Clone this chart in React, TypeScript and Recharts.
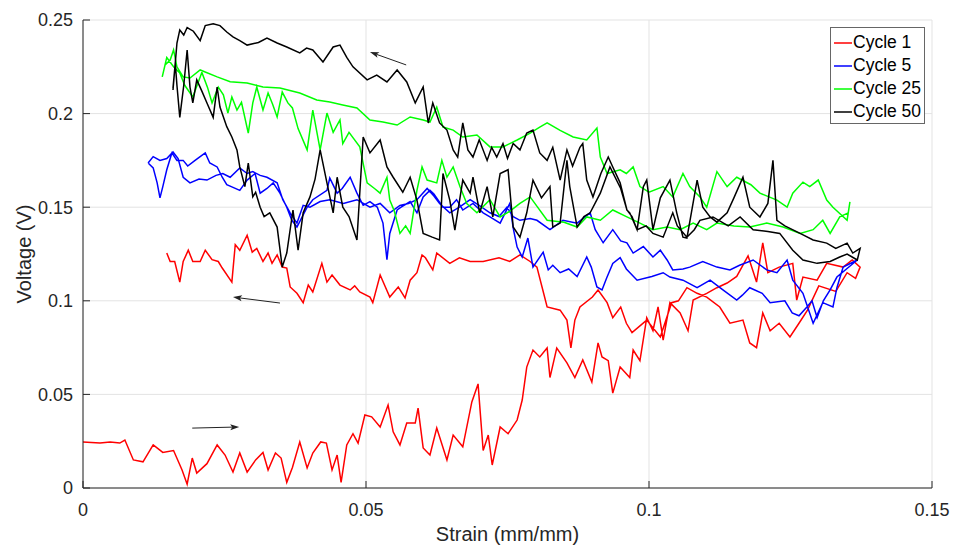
import React from 'react';
import { LineChart, Line, XAxis, YAxis, CartesianGrid, Legend, ReferenceLine } from 'recharts';

const xTicks = [0, 0.05, 0.1, 0.15];
const yTicks = [0, 0.05, 0.1, 0.15, 0.2, 0.25];
const seriesNames = ['Cycle 1', 'Cycle 5', 'Cycle 25', 'Cycle 50'];
const seriesColors = ['#ff0000', '#0000ff', '#00ff00', '#000000'];

const cycle1Load = [
  [0, 0.0246], [0.003, 0.024], [0.0048, 0.0246], [0.0065, 0.024], [0.0074, 0.0256], [0.0089, 0.015], [0.0106, 0.014],
  [0.0124, 0.023], [0.0141, 0.019], [0.016, 0.02], [0.0175, 0.0096], [0.0184, 0.002], [0.0193, 0.016], [0.0201, 0.008],
  [0.0219, 0.013], [0.0237, 0.023], [0.0251, 0.0176], [0.0265, 0.0085], [0.0277, 0.0187], [0.029, 0.0085], [0.0305, 0.015],
  [0.0318, 0.019], [0.0327, 0.0096], [0.034, 0.0187], [0.035, 0.016], [0.036, 0.003], [0.037, 0.011], [0.0383, 0.0246],
  [0.0396, 0.0107], [0.0406, 0.0187], [0.042, 0.0246], [0.043, 0.024], [0.044, 0.0096], [0.0449, 0.0176], [0.0456, 0.003],
  [0.0466, 0.023], [0.0477, 0.029], [0.0486, 0.024], [0.0498, 0.039], [0.051, 0.038], [0.0525, 0.0326], [0.0539, 0.0443],
  [0.0548, 0.03], [0.056, 0.023], [0.0572, 0.0347], [0.0587, 0.0347], [0.0592, 0.0427], [0.0601, 0.0214], [0.0613, 0.0176],
  [0.0625, 0.032], [0.0643, 0.015], [0.0654, 0.0283], [0.0671, 0.022], [0.0687, 0.046], [0.0698, 0.0556], [0.0707, 0.02],
  [0.0716, 0.0283], [0.0723, 0.0123], [0.0737, 0.0326], [0.0751, 0.029], [0.0767, 0.0363], [0.0776, 0.047], [0.0784, 0.0646],
  [0.0795, 0.0737], [0.0807, 0.07], [0.082, 0.0748], [0.0825, 0.059], [0.0837, 0.0748], [0.0855, 0.0668], [0.0869, 0.059],
  [0.0883, 0.0684], [0.0899, 0.0566], [0.091, 0.0775], [0.0917, 0.07], [0.0928, 0.068], [0.0936, 0.0507], [0.0949, 0.0646],
  [0.0966, 0.059], [0.0972, 0.0737], [0.0984, 0.068], [0.0996, 0.091], [0.1007, 0.084], [0.1016, 0.0967], [0.1025, 0.079],
  [0.1037, 0.099], [0.1055, 0.0935], [0.1069, 0.084], [0.1078, 0.1004], [0.1102, 0.104], [0.112, 0.107], [0.1138, 0.1095],
  [0.1155, 0.113], [0.1175, 0.124], [0.119, 0.11], [0.1201, 0.131], [0.121, 0.115], [0.123, 0.118], [0.1254, 0.12],
  [0.1261, 0.1004], [0.1272, 0.1127], [0.1297, 0.111], [0.1314, 0.12], [0.1343, 0.118], [0.1359, 0.1218], [0.1373, 0.118],
];
const cycle1Unload = [
  [0.1365, 0.112], [0.135, 0.115], [0.133, 0.105], [0.13, 0.108], [0.128, 0.095], [0.1265, 0.088], [0.1249, 0.0807],
  [0.123, 0.088], [0.1214, 0.084], [0.1201, 0.0935], [0.119, 0.075], [0.1178, 0.0775], [0.1166, 0.0897], [0.1143, 0.088],
  [0.1125, 0.0967], [0.1102, 0.102], [0.1085, 0.104], [0.1067, 0.107], [0.1052, 0.1], [0.104, 0.099], [0.102, 0.0807],
  [0.0996, 0.0897], [0.097, 0.083], [0.096, 0.088], [0.095, 0.0967], [0.0936, 0.091], [0.0926, 0.099], [0.091, 0.1058],
  [0.09, 0.102], [0.0878, 0.0967], [0.0869, 0.0897], [0.0862, 0.0748], [0.0855, 0.0897], [0.0843, 0.095], [0.082, 0.0967],
  [0.0811, 0.1074], [0.0802, 0.118], [0.079, 0.121], [0.0772, 0.1245], [0.0754, 0.121], [0.0735, 0.123], [0.0707, 0.121],
  [0.0684, 0.121], [0.0665, 0.123], [0.0648, 0.12], [0.0625, 0.1255], [0.0618, 0.1165], [0.0605, 0.123], [0.0599, 0.1245],
  [0.059, 0.115], [0.0578, 0.111], [0.0569, 0.1015], [0.0557, 0.1074], [0.0542, 0.102], [0.0525, 0.1138], [0.0512, 0.099],
  [0.0507, 0.102], [0.0489, 0.1047], [0.048, 0.108], [0.0472, 0.1058], [0.0454, 0.1084], [0.044, 0.1138], [0.0431, 0.11],
  [0.0422, 0.12], [0.0406, 0.1047], [0.0398, 0.1084], [0.0389, 0.099], [0.0378, 0.104], [0.0366, 0.1074], [0.036, 0.1175],
  [0.0352, 0.118], [0.0343, 0.1245], [0.0334, 0.12], [0.0327, 0.1255], [0.0318, 0.121], [0.0307, 0.128], [0.0299, 0.126],
  [0.029, 0.135], [0.0277, 0.127], [0.0269, 0.13], [0.0263, 0.11], [0.0246, 0.1175], [0.0239, 0.121], [0.0228, 0.122],
  [0.0216, 0.127], [0.0207, 0.121], [0.0194, 0.121], [0.0186, 0.127], [0.0177, 0.121], [0.0171, 0.11], [0.0162, 0.121],
  [0.0154, 0.121], [0.0148, 0.1255],
];

const cycle5Load = [
  [0.0115, 0.1736], [0.0124, 0.177], [0.0136, 0.175], [0.0148, 0.176], [0.0159, 0.1795], [0.0168, 0.176], [0.0177, 0.166],
  [0.0189, 0.163], [0.0205, 0.165], [0.0219, 0.1645], [0.0235, 0.167], [0.0247, 0.168], [0.026, 0.166], [0.0277, 0.171],
  [0.029, 0.168], [0.03, 0.169], [0.0313, 0.167], [0.0325, 0.166], [0.0343, 0.163], [0.0353, 0.154], [0.0366, 0.147],
  [0.0378, 0.1415], [0.0389, 0.151], [0.0401, 0.15], [0.0419, 0.153], [0.0436, 0.154], [0.046, 0.152], [0.0484, 0.154],
  [0.0507, 0.15], [0.0525, 0.152], [0.0542, 0.147], [0.056, 0.151], [0.0575, 0.152], [0.059, 0.154], [0.0608, 0.16],
  [0.062, 0.156], [0.063, 0.152], [0.0648, 0.147], [0.0665, 0.15], [0.0684, 0.154], [0.07, 0.151], [0.0719, 0.147],
  [0.0735, 0.145], [0.0749, 0.15], [0.076, 0.145], [0.0772, 0.143], [0.079, 0.144], [0.0802, 0.143], [0.0825, 0.138],
  [0.0848, 0.143], [0.0873, 0.1415], [0.0896, 0.147], [0.0905, 0.138], [0.0919, 0.131], [0.0936, 0.138], [0.095, 0.132],
  [0.0961, 0.131], [0.0972, 0.1255], [0.099, 0.129], [0.1007, 0.1234], [0.102, 0.127], [0.1032, 0.1218], [0.1042, 0.1165],
  [0.106, 0.117], [0.1072, 0.118], [0.1095, 0.121], [0.112, 0.118], [0.1143, 0.1165], [0.116, 0.119], [0.1184, 0.1218],
  [0.1208, 0.1165], [0.1226, 0.115], [0.1244, 0.1218], [0.1254, 0.111], [0.1272, 0.104], [0.129, 0.088], [0.1307, 0.099],
  [0.1325, 0.0967], [0.1332, 0.107], [0.1343, 0.118], [0.1368, 0.1218],
];
const cycle5Unload = [
  [0.1332, 0.1127], [0.132, 0.1058], [0.1308, 0.1], [0.1297, 0.091], [0.1288, 0.1], [0.1279, 0.0967], [0.1265, 0.092],
  [0.1253, 0.0935], [0.124, 0.1], [0.1214, 0.099], [0.12, 0.104], [0.1178, 0.107], [0.1165, 0.103], [0.1155, 0.1004],
  [0.113, 0.106], [0.1108, 0.111], [0.1085, 0.107], [0.106, 0.111], [0.1037, 0.1127], [0.1025, 0.115], [0.1005, 0.113],
  [0.0979, 0.111], [0.096, 0.117], [0.0949, 0.123], [0.0936, 0.12], [0.0925, 0.112], [0.0917, 0.1058], [0.0908, 0.1074],
  [0.0898, 0.118], [0.089, 0.1234], [0.0873, 0.113], [0.0858, 0.117], [0.0843, 0.115], [0.083, 0.119], [0.0822, 0.1165],
  [0.0813, 0.126], [0.0795, 0.118], [0.0786, 0.1335], [0.0776, 0.1234], [0.0767, 0.1287], [0.076, 0.139], [0.0754, 0.152],
  [0.0737, 0.1415], [0.0719, 0.1448], [0.0707, 0.147], [0.0689, 0.152], [0.0671, 0.1485], [0.066, 0.154], [0.0648, 0.15],
  [0.0636, 0.15], [0.062, 0.157], [0.0613, 0.159], [0.0601, 0.1555], [0.059, 0.147], [0.0578, 0.153], [0.0562, 0.15],
  [0.0555, 0.1485], [0.0542, 0.136], [0.0537, 0.122], [0.053, 0.1415], [0.052, 0.15], [0.0507, 0.153], [0.0495, 0.151],
  [0.0484, 0.1575], [0.0472, 0.166], [0.0458, 0.16], [0.0449, 0.1575], [0.0436, 0.1656], [0.0431, 0.159], [0.0406, 0.154],
  [0.0396, 0.15], [0.0378, 0.1394], [0.0369, 0.143], [0.036, 0.15], [0.0348, 0.1575], [0.0336, 0.163], [0.0325, 0.16],
  [0.0313, 0.1575], [0.0304, 0.168], [0.029, 0.1645], [0.0277, 0.159], [0.0262, 0.161], [0.0254, 0.162], [0.0246, 0.166],
  [0.0237, 0.1715], [0.0224, 0.1736], [0.0216, 0.179], [0.0207, 0.177], [0.0198, 0.175], [0.0185, 0.172], [0.0177, 0.175],
  [0.0166, 0.175], [0.0157, 0.179], [0.0148, 0.17], [0.0141, 0.161], [0.0136, 0.155], [0.0131, 0.163], [0.0124, 0.171],
  [0.0115, 0.1736],
];

const cycle25Load = [
  [0.014, 0.2196], [0.0148, 0.23], [0.016, 0.225], [0.0171, 0.2217], [0.018, 0.215], [0.0194, 0.2089], [0.021, 0.222],
  [0.022, 0.214], [0.0228, 0.2057], [0.0239, 0.2142], [0.0248, 0.21], [0.0256, 0.2003], [0.0263, 0.2089], [0.0272, 0.2019],
  [0.028, 0.206], [0.0292, 0.1896], [0.03, 0.2057], [0.0307, 0.2142], [0.0318, 0.2019], [0.0327, 0.211], [0.0335, 0.205],
  [0.0343, 0.1982], [0.0352, 0.2115], [0.0362, 0.2057], [0.037, 0.203], [0.038, 0.192], [0.0396, 0.1806], [0.0406, 0.2019],
  [0.0419, 0.1806], [0.0431, 0.2003], [0.0442, 0.19], [0.0454, 0.1966], [0.0459, 0.184], [0.047, 0.19], [0.0489, 0.1822],
  [0.0502, 0.163], [0.0515, 0.16], [0.0525, 0.1575], [0.0537, 0.166], [0.0542, 0.1538], [0.055, 0.148], [0.056, 0.136],
  [0.057, 0.14], [0.0578, 0.136], [0.059, 0.159], [0.0599, 0.1715], [0.0608, 0.1645], [0.0625, 0.163], [0.0634, 0.175],
  [0.0643, 0.166], [0.0654, 0.1715], [0.0666, 0.161], [0.0678, 0.152], [0.0696, 0.147], [0.0719, 0.154], [0.0737, 0.1448],
  [0.0755, 0.148], [0.0772, 0.152], [0.079, 0.1555], [0.082, 0.143], [0.085, 0.142], [0.0873, 0.1394], [0.089, 0.1448],
  [0.0914, 0.143], [0.0936, 0.1485], [0.0961, 0.1448], [0.0984, 0.1415], [0.1007, 0.138], [0.1032, 0.1394], [0.1055, 0.138],
  [0.1078, 0.1415], [0.1102, 0.138], [0.112, 0.1415], [0.115, 0.14], [0.1178, 0.1394], [0.1208, 0.1415], [0.1237, 0.1394],
  [0.1267, 0.136], [0.129, 0.138], [0.1307, 0.143], [0.132, 0.136], [0.1337, 0.1448], [0.1352, 0.147], [0.1355, 0.1528],
];
const cycle25Unload = [
  [0.135, 0.143], [0.1325, 0.15], [0.1314, 0.1538], [0.1299, 0.1645], [0.1284, 0.161], [0.1272, 0.1634], [0.1254, 0.1575],
  [0.1244, 0.15], [0.1226, 0.1538], [0.1196, 0.1575], [0.118, 0.162], [0.1155, 0.166], [0.1138, 0.161], [0.112, 0.169],
  [0.1102, 0.15], [0.109, 0.1555], [0.1072, 0.161], [0.106, 0.168], [0.1042, 0.1555], [0.1025, 0.161], [0.1, 0.158],
  [0.0984, 0.161], [0.0972, 0.1715], [0.096, 0.168], [0.0949, 0.17], [0.0926, 0.168], [0.0914, 0.1768], [0.0908, 0.1923],
  [0.089, 0.1859], [0.0866, 0.1875], [0.0843, 0.191], [0.082, 0.195], [0.0807, 0.1928], [0.079, 0.1896], [0.0767, 0.1859],
  [0.0742, 0.1822], [0.0719, 0.1822], [0.0696, 0.1886], [0.0671, 0.1875], [0.0654, 0.1912], [0.0636, 0.1928], [0.0625, 0.2035],
  [0.0613, 0.1955], [0.0601, 0.1966], [0.0578, 0.1982], [0.0555, 0.1939], [0.053, 0.1955], [0.0507, 0.1966], [0.0484, 0.203],
  [0.0459, 0.2046], [0.0436, 0.2062], [0.0413, 0.2073], [0.0383, 0.211], [0.0348, 0.2137], [0.0318, 0.2142], [0.029, 0.2163],
  [0.026, 0.217], [0.0237, 0.2196], [0.0207, 0.2233], [0.0189, 0.219], [0.0177, 0.2196], [0.0166, 0.225], [0.016, 0.234],
  [0.0154, 0.2286], [0.0145, 0.226], [0.014, 0.2196],
];

const cycle50Load = [
  [0.0159, 0.2137], [0.0163, 0.227], [0.0166, 0.2377], [0.0171, 0.2447], [0.0178, 0.242], [0.0184, 0.246], [0.0195, 0.244],
  [0.0207, 0.239], [0.0216, 0.247], [0.023, 0.248], [0.0242, 0.247], [0.0254, 0.2436], [0.0265, 0.241], [0.0277, 0.239],
  [0.029, 0.2366], [0.031, 0.238], [0.0325, 0.2404], [0.0343, 0.2377], [0.036, 0.2356], [0.0383, 0.2324], [0.0395, 0.235],
  [0.0406, 0.234], [0.0424, 0.2276], [0.0442, 0.2356], [0.0454, 0.2366], [0.0466, 0.23], [0.0477, 0.225], [0.0502, 0.218],
  [0.0519, 0.2206], [0.0537, 0.2169], [0.0555, 0.2233], [0.0572, 0.2169], [0.0587, 0.2057], [0.0601, 0.2142], [0.061, 0.195],
  [0.0618, 0.2057], [0.063, 0.195], [0.0643, 0.1912], [0.0654, 0.1806], [0.0662, 0.1768], [0.0671, 0.195], [0.068, 0.1806],
  [0.0689, 0.1768], [0.07, 0.186], [0.0714, 0.175], [0.0722, 0.182], [0.0731, 0.1768], [0.0742, 0.184], [0.075, 0.176],
  [0.076, 0.184], [0.0772, 0.1806], [0.0784, 0.1896], [0.0795, 0.1912], [0.0807, 0.179], [0.082, 0.175], [0.083, 0.182],
  [0.0843, 0.1645], [0.0855, 0.1806], [0.0865, 0.172], [0.0878, 0.182], [0.0883, 0.184], [0.089, 0.1645], [0.0901, 0.1555],
  [0.0915, 0.168], [0.0928, 0.1768], [0.0936, 0.1715], [0.0949, 0.163], [0.0961, 0.1485], [0.0966, 0.147], [0.0979, 0.138],
  [0.099, 0.161], [0.0996, 0.1645], [0.1007, 0.138], [0.102, 0.155], [0.1037, 0.1645], [0.1049, 0.147], [0.106, 0.134],
  [0.1067, 0.1335], [0.1085, 0.1645], [0.1095, 0.15], [0.1108, 0.1448], [0.112, 0.142], [0.1138, 0.147], [0.115, 0.155],
  [0.1166, 0.166], [0.1178, 0.15], [0.1196, 0.1448], [0.121, 0.152], [0.1219, 0.175], [0.1226, 0.143], [0.124, 0.14],
  [0.1267, 0.136], [0.129, 0.1325], [0.1314, 0.1308], [0.133, 0.128], [0.135, 0.1308], [0.136, 0.1255], [0.1373, 0.128],
];
const cycle50Unload = [
  [0.1368, 0.1218], [0.135, 0.125], [0.1337, 0.1234], [0.132, 0.121], [0.1297, 0.12], [0.1272, 0.1218], [0.1254, 0.127],
  [0.1231, 0.136], [0.121, 0.137], [0.1184, 0.138], [0.1161, 0.1448], [0.114, 0.14], [0.1113, 0.1448], [0.109, 0.143],
  [0.108, 0.138], [0.1067, 0.134], [0.105, 0.14], [0.1042, 0.147], [0.1025, 0.134], [0.1007, 0.136], [0.0995, 0.14],
  [0.0979, 0.138], [0.097, 0.145], [0.0961, 0.1485], [0.095, 0.16], [0.0931, 0.1715], [0.0914, 0.1575], [0.0896, 0.147],
  [0.0885, 0.145], [0.0873, 0.1394], [0.086, 0.161], [0.0855, 0.175], [0.0843, 0.1415], [0.083, 0.1394], [0.0825, 0.161],
  [0.081, 0.155], [0.0795, 0.1645], [0.0784, 0.147], [0.0772, 0.134], [0.076, 0.1394], [0.0751, 0.17], [0.0737, 0.168],
  [0.0724, 0.1448], [0.0714, 0.161], [0.0701, 0.147], [0.0689, 0.166], [0.0684, 0.1575], [0.0671, 0.1645], [0.0657, 0.1378],
  [0.0648, 0.1538], [0.0636, 0.168], [0.063, 0.1325], [0.0617, 0.134], [0.0601, 0.136], [0.059, 0.1538], [0.0578, 0.166],
  [0.0565, 0.158], [0.0548, 0.166], [0.0537, 0.1715], [0.0525, 0.1859], [0.0507, 0.179], [0.0495, 0.1875], [0.0484, 0.1325],
  [0.047, 0.145], [0.0459, 0.15], [0.0449, 0.166], [0.0442, 0.147], [0.0431, 0.163], [0.0419, 0.1806], [0.041, 0.165],
  [0.0401, 0.1555], [0.0389, 0.147], [0.038, 0.127], [0.0371, 0.1485], [0.036, 0.1255], [0.0352, 0.118], [0.0343, 0.1394],
  [0.033, 0.147], [0.032, 0.145], [0.0313, 0.15], [0.0305, 0.158], [0.03, 0.1555], [0.0292, 0.1736], [0.0286, 0.161],
  [0.0277, 0.1715], [0.0272, 0.1806], [0.0263, 0.1875], [0.0254, 0.193], [0.0242, 0.2035], [0.0237, 0.2142], [0.023, 0.198],
  [0.0219, 0.2057], [0.021, 0.212], [0.0201, 0.218], [0.0194, 0.2057], [0.0189, 0.2142], [0.0184, 0.234], [0.0178, 0.215],
  [0.0171, 0.198], [0.0166, 0.215], [0.0163, 0.227], [0.0159, 0.2126],
];

// annotation arrows: [fromX, fromY, toX, toY]
const arrowSegments = [
  [0.0193, 0.032, 0.0276, 0.0326],
  [0.0348, 0.0988, 0.0265, 0.102],
  [0.0571, 0.226, 0.0507, 0.2329],
];

const toPts = (arr) => arr.map(([x, y]) => ({ x, y }));

const seriesData = [
  toPts([...cycle1Load, ...cycle1Unload]),
  toPts([...cycle5Load, ...cycle5Unload]),
  toPts([...cycle25Load, ...cycle25Unload]),
  toPts([...cycle50Load, ...cycle50Unload]),
];

const FONT = '"Liberation Sans", Arial, Helvetica, sans-serif';
const AXIS_COLOR = '#262626';

const ArrowShape = (props) => {
  const { x1, y1, x2, y2 } = props;
  if ([x1, y1, x2, y2].some((v) => typeof v !== 'number' || isNaN(v))) return null;
  const dx = x2 - x1;
  const dy = y2 - y1;
  const len = Math.sqrt(dx * dx + dy * dy) || 1;
  const ux = dx / len;
  const uy = dy / len;
  const hl = 9;
  const hw = 3;
  const bx = x2 - ux * hl;
  const by = y2 - uy * hl;
  const p1 = `${bx - uy * hw},${by + ux * hw}`;
  const p2 = `${bx + uy * hw},${by - ux * hw}`;
  return (
    <g>
      <line x1={x1} y1={y1} x2={bx + ux * 2} y2={by + uy * 2} stroke="#222" strokeWidth={1} />
      <polygon points={`${x2},${y2} ${p1} ${bx + ux * 2},${by + uy * 2} ${p2}`} fill="#222" stroke="none" />
    </g>
  );
};

const LegendBox = () => (
  <div
    style={{
      width: 95,
      height: 97,
      boxSizing: 'border-box',
      border: '1.5px solid #666',
      background: '#fff',
      paddingTop: 3,
      fontFamily: FONT,
      fontSize: 17.5,
      color: '#000',
    }}
  >
    {seriesNames.map((name, i) => (
      <div key={name} style={{ display: 'flex', alignItems: 'center', height: 23, lineHeight: '23px' }}>
        <svg width={20} height={23} style={{ flex: 'none', marginLeft: 2 }}>
          <line x1={1} y1={12} x2={19} y2={12} stroke={seriesColors[i]} strokeWidth={1.5} />
        </svg>
        <span style={{ whiteSpace: 'nowrap' }}>{name}</span>
      </div>
    ))}
  </div>
);

export default function App() {
  return (
    <div style={{ position: 'absolute', left: 0, top: 0, width: 956, height: 548, background: '#fff', fontFamily: FONT }}>
      <LineChart width={956} height={548} margin={{ top: 20, right: 24, bottom: 0, left: 0 }}>
        <CartesianGrid stroke="#e3e3e3" strokeWidth={1} />
        <XAxis
          type="number"
          dataKey="x"
          domain={[0, 0.15]}
          ticks={xTicks}
          allowDataOverflow
          height={60}
          stroke={AXIS_COLOR}
          tickSize={-7}
          tickMargin={22}
          tick={{ fill: AXIS_COLOR, fontSize: 18 }}
          label={{ value: 'Strain (mm/mm)', position: 'insideBottom', offset: 7, fill: AXIS_COLOR, fontSize: 20 }}
        />
        <YAxis
          type="number"
          dataKey="y"
          domain={[0, 0.25]}
          ticks={yTicks}
          allowDataOverflow
          width={83}
          stroke={AXIS_COLOR}
          tickSize={-7}
          tickMargin={17}
          tick={{ fill: AXIS_COLOR, fontSize: 18 }}
          label={{
            value: 'Voltage (V)',
            angle: -90,
            position: 'insideLeft',
            offset: 24,
            fill: AXIS_COLOR,
            fontSize: 20,
            style: { textAnchor: 'middle' },
          }}
        />
        {seriesData.map((d, i) => (
          <Line
            key={seriesNames[i]}
            name={seriesNames[i]}
            data={d}
            dataKey="y"
            type="linear"
            stroke={seriesColors[i]}
            strokeWidth={1.5}
            dot={false}
            activeDot={false}
            isAnimationActive={false}
          />
        ))}
        {arrowSegments.map((a, i) => (
          <ReferenceLine
            key={`arrow-${i}`}
            segment={[{ x: a[0], y: a[1] }, { x: a[2], y: a[3] }]}
            shape={ArrowShape}
            ifOverflow="visible"
          />
        ))}
        <Legend
          layout="vertical"
          align="center"
          verticalAlign="middle"
          content={() => <LegendBox />}
          wrapperStyle={{ left: 830, top: 27, width: 95 }}
        />
      </LineChart>
    </div>
  );
}
